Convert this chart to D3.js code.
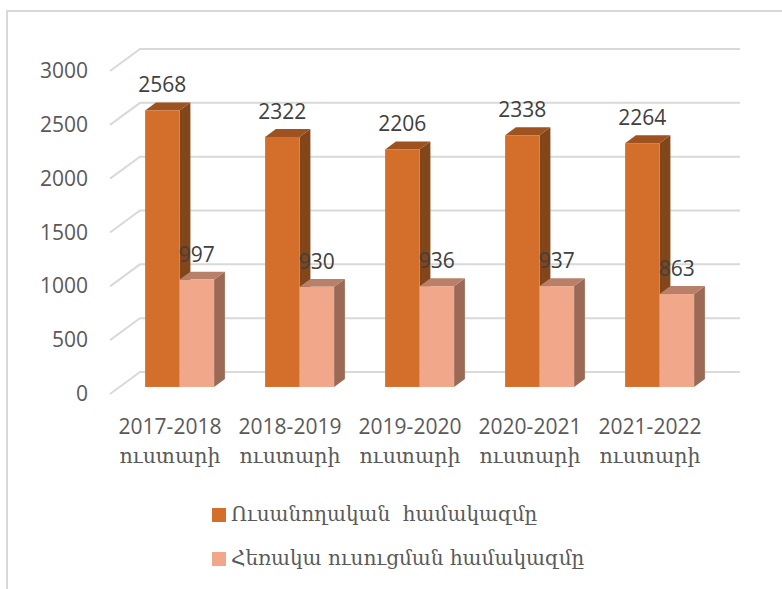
<!DOCTYPE html>
<html>
<head>
<meta charset="utf-8">
<script src="https://cdn.jsdelivr.net/npm/d3@7"></script>
<style>
  body { margin: 0; background: #fff; }
  svg { display: block; }
</style>
</head>
<body>
<div class="chart"></div>
<script>
const years = ["2017-2018", "2018-2019", "2019-2020", "2020-2021", "2021-2022"];
const yearSuffix = "ուստարի";
const seriesNames = ["Ուսանողական  համակազմը", "Հեռակա ուսուցման համակազմը"];
const fullTime = [2568, 2322, 2206, 2338, 2264];
const distance = [997, 930, 936, 937, 863];
const yTicks = [0, 500, 1000, 1500, 2000, 2500, 3000];

const W = 782, H = 589;
const svg = d3.select(".chart").append("svg")
    .attr("width", W)
    .attr("height", H);

// chart border
svg.append("path")
    .attr("d", `M7,${H} L7,11 L${W},11`)
    .attr("fill", "none")
    .attr("stroke", "#d9d9d9")
    .attr("stroke-width", 2);

// front axis plane and depth offset
const depthX = 30, depthY = -22;
const x = d3.scaleBand().domain(years).range([110, 710]);
const y = d3.scaleLinear().domain([0, 3000]).range([394, 71]);

// gridlines: diagonal on the side wall then across the back wall
svg.selectAll(".grid")
    .data(yTicks)
    .enter().append("path")
    .attr("class", "grid")
    .attr("d", d => `M110,${y(d)} L${110 + depthX},${y(d) + depthY} L${710 + depthX},${y(d) + depthY}`)
    .attr("fill", "none")
    .attr("stroke", "#d9d9d9")
    .attr("stroke-width", 2);

// tick labels
svg.selectAll(".tick")
    .data(yTicks)
    .enter().append("text")
    .attr("class", "tick")
    .attr("x", 88)
    .attr("y", d => y(d) + 7)
    .attr("text-anchor", "end")
    .attr("font-family", "Open Sans")
    .attr("font-size", 21)
    .attr("fill", "#595959")
    .text(d => d);

// bars sit part way into the floor
const fx = depthX * 0.32, fy = depthY * 0.32;
const sx = depthX * 0.36, sy = depthY * 0.36;
const barW = 34.5;
const hScale = v => y(0) - y(v);

const colors = [
    { front: "#d36f2b", side: "#83461a", top: "#9e521f" },
    { front: "#f1a78a", side: "#9b6956", top: "#b98069" }
];

function drawBar(x0, value, c) {
    const base = y(0) + fy;
    const top = base - hScale(value);
    svg.append("path")
        .attr("d", `M${x0 + barW},${base} L${x0 + barW + sx},${base + sy} L${x0 + barW + sx},${top + sy} L${x0 + barW},${top} Z`)
        .attr("fill", c.side);
    svg.append("path")
        .attr("d", `M${x0},${top} L${x0 + sx},${top + sy} L${x0 + barW + sx},${top + sy} L${x0 + barW},${top} Z`)
        .attr("fill", c.top);
    svg.append("rect")
        .attr("x", x0)
        .attr("y", top)
        .attr("width", barW)
        .attr("height", base - top)
        .attr("fill", c.front);
}

years.forEach((yr, i) => {
    const cx = x(yr) + x.bandwidth() / 2 + fx;
    drawBar(cx - barW, fullTime[i], colors[0]);
    drawBar(cx, distance[i], colors[1]);
});

// data labels
const labels = [];
years.forEach((yr, i) => {
    const cx = x(yr) + x.bandwidth() / 2 + fx;
    labels.push({ x: cx - barW / 2, v: fullTime[i] });
    labels.push({ x: cx + barW / 2, v: distance[i] });
});
svg.selectAll(".dlabel")
    .data(labels)
    .enter().append("text")
    .attr("class", "dlabel")
    .attr("x", d => d.x)
    .attr("y", d => y(0) + fy - hScale(d.v) - 18)
    .attr("text-anchor", "middle")
    .attr("font-family", "Open Sans")
    .attr("font-size", 21)
    .attr("fill", "#404040")
    .text(d => d.v);

// category labels
const cat = svg.selectAll(".cat")
    .data(years)
    .enter().append("g")
    .attr("class", "cat")
    .attr("transform", d => `translate(${x(d) + x.bandwidth() / 2},0)`);
cat.append("text")
    .attr("y", 434)
    .attr("text-anchor", "middle")
    .attr("font-family", "Open Sans")
    .attr("font-size", 21)
    .attr("fill", "#595959")
    .text(d => d);
cat.append("text")
    .attr("y", 463)
    .attr("text-anchor", "middle")
    .attr("font-family", "DejaVu Serif")
    .attr("font-size", 20.5)
    .attr("fill", "#595959")
    .text(yearSuffix);

// legend
const legend = svg.selectAll(".legend")
    .data(seriesNames)
    .enter().append("g")
    .attr("class", "legend")
    .attr("transform", (d, i) => `translate(212,${508 + i * 44})`);
legend.append("rect")
    .attr("width", 14)
    .attr("height", 14)
    .attr("fill", (d, i) => colors[i].front);
legend.append("text")
    .attr("x", 19)
    .attr("y", 13)
    .attr("font-family", "DejaVu Serif")
    .attr("font-size", 20)
    .attr("fill", "#595959")
    .style("white-space", "pre")
    .text(d => d);
</script>
</body>
</html>
